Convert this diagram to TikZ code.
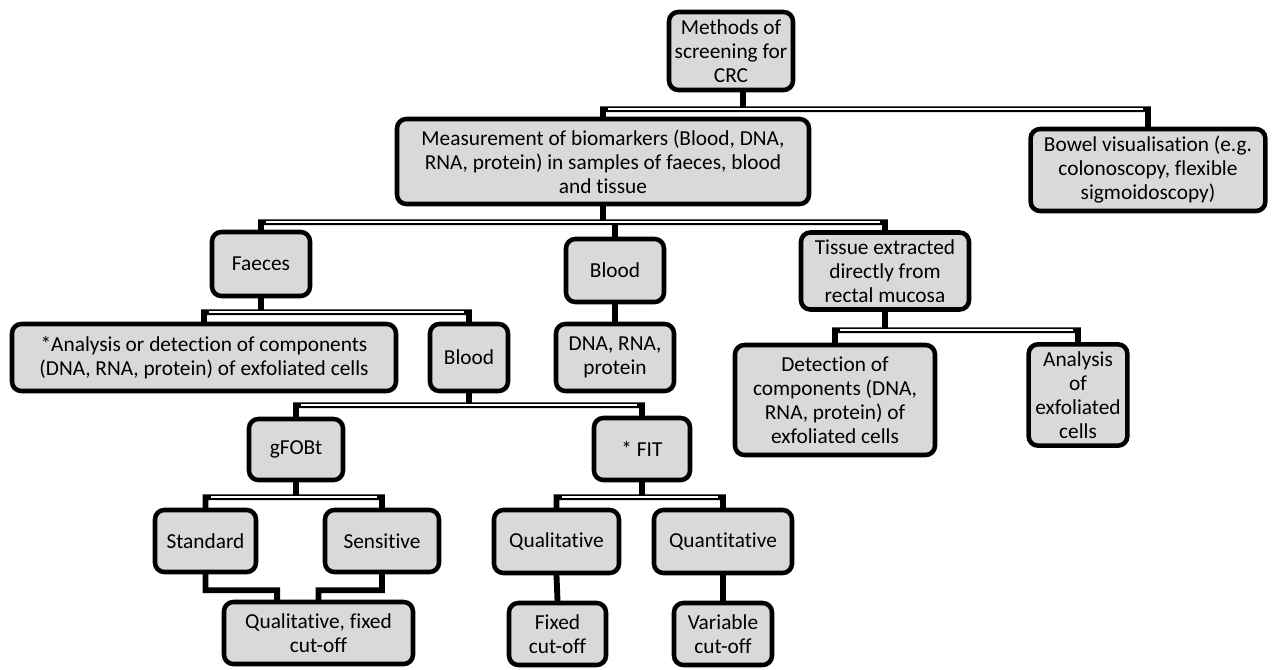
\documentclass[tikz,border=0pt]{standalone}
\usepackage{fontspec}
\setmainfont{Carlito}[Ligatures=NoCommon]
\usetikzlibrary{calc}
\pgfdeclarelayer{background}
\pgfsetlayers{background,main}
\definecolor{boxgray}{HTML}{D9D9D9}
\begin{document}
\begin{tikzpicture}[x=0.75pt,y=-0.75pt,
  box/.style={draw=black, line width=3.4pt, fill=boxgray, rounded corners=7pt,
    align=center, inner sep=0pt, font=\fontsize{16}{18}\selectfont},
  conn/.style={draw=black, line width=4.4pt, line join=miter, line cap=rect},
  stripe/.style={draw=white, line width=1.2pt, shorten <=4pt, shorten >=4pt}]
\useasboundingbox (0,0) rectangle (1279,669);

\node[box, minimum width=93pt, minimum height=58.5pt] (methods) at (731,51) {Methods of\\screening for\\CRC};
\node[box, minimum width=309pt, minimum height=63.75pt] (meas) at (603,161.5) {Measurement of biomarkers (Blood, DNA,\\RNA, protein) in samples of faeces, blood\\and tissue};
\node[box, minimum width=176pt, minimum height=61.5pt] (bowel) at (1148,170) {Bowel visualisation (e.g.\\colonoscopy, flexible\\sigmoidoscopy)};
\node[box, minimum width=73.5pt, minimum height=48pt] (faeces) at (261,264) {Faeces};
\node[box, minimum width=73.5pt, minimum height=47.25pt] (bloodm) at (615,270.5) {Blood};
\node[box, minimum width=126pt, minimum height=57.75pt] (tissue) at (885,271) {Tissue extracted\\directly from\\rectal mucosa};
\node[box, minimum width=288pt, minimum height=50.25pt] (anal1) at (204,357.5) {*Analysis or detection of components\\(DNA, RNA, protein) of exfoliated cells};
\node[box, minimum width=58.5pt, minimum height=50.25pt] (blood2) at (469,357.5) {Blood};
\node[box, minimum width=88.5pt, minimum height=50.25pt] (dna) at (615,357.5) {DNA, RNA,\\protein};
\node[box, minimum width=150pt, minimum height=82.5pt] (detect) at (835,400) {Detection of\\components (DNA,\\RNA, protein) of\\exfoliated cells};
\node[box, minimum width=74pt, minimum height=76pt] (anal2) at (1078,395) {Analysis\\of\\exfoliated\\cells};
\node[box, minimum width=70.5pt, minimum height=45.75pt] (gfobt) at (296,449.5) {gFOBt};
\node[box, minimum width=72pt, minimum height=46.5pt] (fit) at (642,449) {* FIT};
\node[box, minimum width=75.75pt, minimum height=46.5pt] (std) at (205.5,541) {Standard};
\node[box, minimum width=85.5pt, minimum height=46.5pt] (sens) at (382,541) {Sensitive};
\node[box, minimum width=93.75pt, minimum height=47.25pt] (qual) at (556.5,541.5) {Qualitative};
\node[box, minimum width=103.5pt, minimum height=47.25pt] (quant) at (723,541.5) {Quantitative};
\node[box, minimum width=141.75pt, minimum height=46.5pt] (qf) at (318.5,633) {Qualitative, fixed\\cut-off};
\node[box, minimum width=72.75pt, minimum height=46.5pt] (fixed) at (557.5,634) {Fixed\\cut-off};
\node[box, minimum width=73.5pt, minimum height=46.5pt] (var) at (723,634) {Variable\\cut-off};

% junction levels
\coordinate (jm) at ($([xshift=9pt]methods.south)+(0,17)$);
\coordinate (jb) at ($(meas.south)+(0,16)$);
\coordinate (jf) at ($(faeces.south)+(0,14)$);
\coordinate (jt) at ($(tissue.south)+(0,18.5)$);
\coordinate (jd) at ($(blood2.south)+(0,12)$);
\coordinate (jg) at ($(gfobt.south)+(0,15)$);
\coordinate (ji) at ($(fit.south)+(0,15)$);
\coordinate (js) at ($(std.south)+(0,16)$);
\coordinate (jn) at ($(sens.south)+(0,16)$);

\begin{pgfonlayer}{background}
\draw[conn]
  ([xshift=9pt]methods.south) -- (jm) -| (meas.north)
  (jm) -| (bowel.north)
  (meas.south) -- (jb) -| (faeces.north)
  (jb) -| (bloodm.north)
  (jb) -| (tissue.north)
  (faeces.south) -- (jf) -| (anal1.north)
  (jf) -| (blood2.north)
  (bloodm.south) -- (dna.north)
  (tissue.south) -- (jt) -| (detect.north)
  (jt) -| (anal2.north)
  (blood2.south) -- (jd) -| (gfobt.north)
  (jd) -| (fit.north)
  (gfobt.south) -- (jg) -| (std.north)
  (jg) -| (sens.north)
  (fit.south) -- (ji) -| (qual.north)
  (ji) -| (quant.north)
  (std.south) -- (js) -| ([xshift=-31pt]qf.north)
  (sens.south) -- (jn) -| (qf.north)
  (qual.south) -- (fixed.north)
  (quant.south) -- (var.north);
\draw[stripe] (meas.north |- jm) -- (bowel.north |- jm);
\draw[stripe] (faeces.north |- jb) -- (tissue.north |- jb);
\draw[stripe] (anal1.north |- jf) -- (blood2.north |- jf);
\draw[stripe] (detect.north |- jt) -- (anal2.north |- jt);
\draw[stripe] (gfobt.north |- jd) -- (fit.north |- jd);
\draw[stripe] (std.north |- jg) -- (sens.north |- jg);
\draw[stripe] (qual.north |- ji) -- (quant.north |- ji);
\end{pgfonlayer}
\end{tikzpicture}
\end{document}
